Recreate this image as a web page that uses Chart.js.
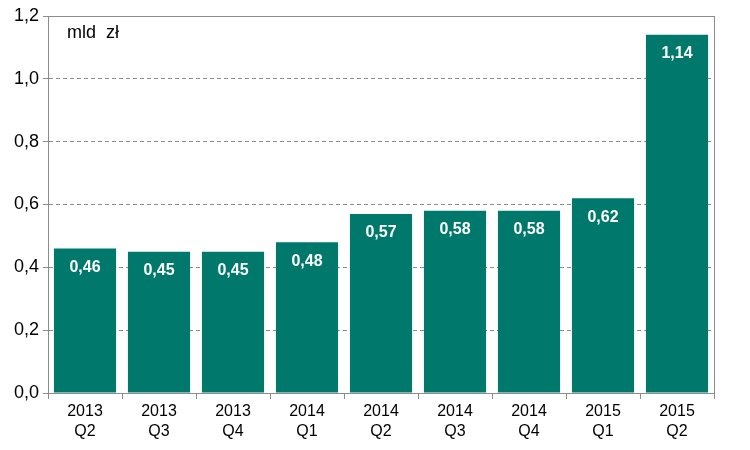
<!DOCTYPE html>
<html>
<head>
<meta charset="utf-8">
<script src="https://cdn.jsdelivr.net/npm/chart.js@4"></script>
<style>
  body { margin: 0; background: #fff; }
  #wrap { width: 750px; height: 450px; }
</style>
</head>
<body>
<div id="wrap"><canvas id="myChart" width="750" height="450"></canvas></div>
<script>
const years = ['2013', '2013', '2013', '2014', '2014', '2014', '2014', '2015', '2015'];
const quarters = ['Q2', 'Q3', 'Q4', 'Q1', 'Q2', 'Q3', 'Q4', 'Q1', 'Q2'];
const values = [0.46, 0.45, 0.45, 0.48, 0.57, 0.58, 0.58, 0.62, 1.14];
const unitLabel = 'mld  zł';

const fmt = v => v.toFixed(2).replace('.', ',');

// frame around plot area + unit text
const framePlugin = {
    id: 'frame',
    afterDraw: function(chart){
        const a = chart.chartArea;
        const ctx = chart.ctx;
        ctx.save();
        ctx.strokeStyle = '#8c8c8c';
        ctx.lineWidth = 1;
        ctx.setLineDash([]);
        ctx.strokeRect(Math.round(a.left) + 0.5, Math.round(a.top) + 0.5,
            Math.round(a.right - a.left), Math.round(a.bottom - a.top));
        ctx.fillStyle = '#000';
        ctx.font = '18px "Liberation Sans", Arial, sans-serif';
        ctx.textBaseline = 'middle';
        ctx.fillText(unitLabel, a.left + 19, a.top + 17);
        ctx.restore();
    }
};

// value labels inside bars
const valuePlugin = {
    id: 'values',
    afterDatasetsDraw: function(chart){
        const ctx = chart.ctx;
        const meta = chart.getDatasetMeta(0);
        ctx.save();
        ctx.fillStyle = '#fff';
        ctx.font = 'bold 16px "Liberation Sans", Arial, sans-serif';
        ctx.textAlign = 'center';
        ctx.textBaseline = 'middle';
        meta.data.forEach(function(bar, i){
            ctx.fillText(fmt(values[i]), bar.x, bar.y + 19);
        });
        ctx.restore();
    }
};

new Chart(document.getElementById('myChart'), {
    type: 'bar',
    data: {
        labels: years.map((y, i) => [y, quarters[i]]),
        datasets: [{
            data: values,
            backgroundColor: '#00796C',
            categoryPercentage: 0.84,
            barPercentage: 1.0
        }]
    },
    options: {
        responsive: false,
        animation: false,
        layout: { padding: { top: 16, right: 36, left: 0, bottom: 0 } },
        plugins: { legend: { display: false }, tooltip: { enabled: false } },
        scales: {
            x: {
                afterFit: function(s){ s.height = 57; },
                grid: {
                    offset: true,
                    drawOnChartArea: false,
                    drawTicks: true,
                    tickLength: 6,
                    color: '#8c8c8c'
                },
                border: { color: '#8c8c8c' },
                ticks: {
                    color: '#000',
                    padding: 3,
                    maxRotation: 0,
                    font: { family: '"Liberation Sans", Arial, sans-serif', size: 16, lineHeight: 1.25 }
                }
            },
            y: {
                min: 0,
                max: 1.2,
                afterFit: function(s){ s.width = 48; },
                grid: {
                    color: function(c){
                        return (c.tick && (c.tick.value === 0 || c.tick.value > 1.1)) ? 'rgba(0,0,0,0)' : '#8c8c8c';
                    },
                    tickColor: '#8c8c8c',
                    tickLength: 5
                },
                border: { color: '#8c8c8c', dash: [4, 3] },
                ticks: {
                    stepSize: 0.2,
                    color: '#000',
                    padding: 4,
                    font: { family: '"Liberation Sans", Arial, sans-serif', size: 18 },
                    callback: v => v.toFixed(1).replace('.', ',')
                }
            }
        }
    },
    plugins: [framePlugin, valuePlugin]
});
</script>
</body>
</html>
